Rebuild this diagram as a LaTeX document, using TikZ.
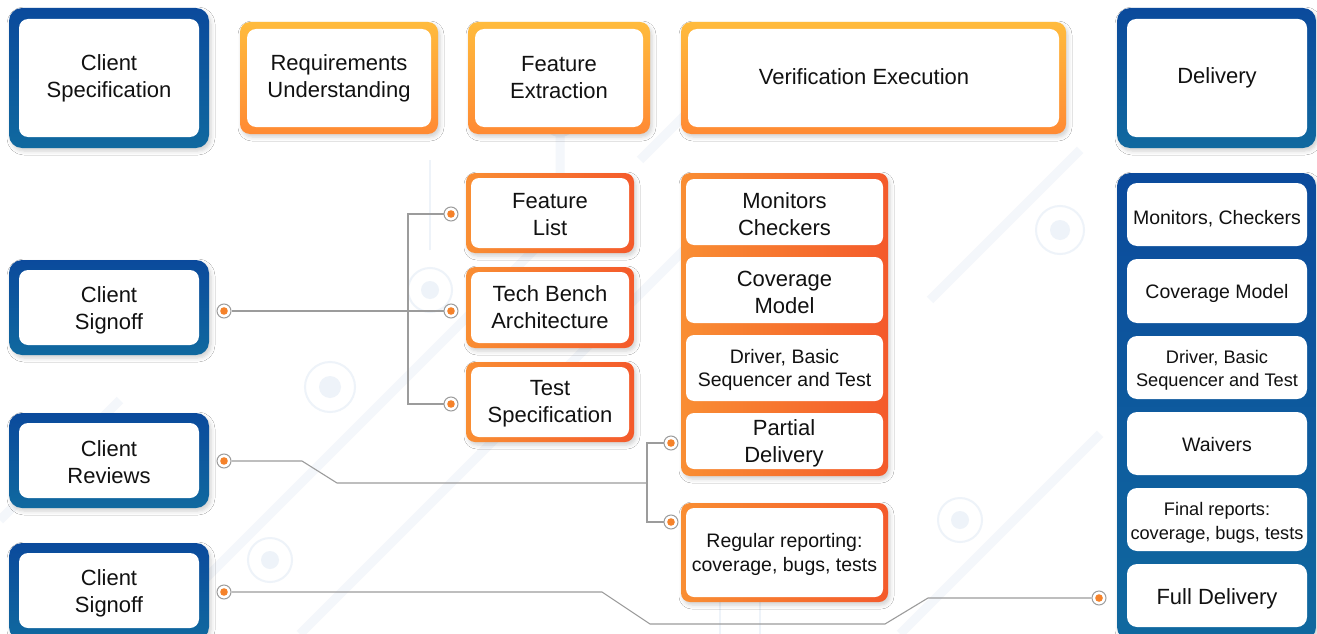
\documentclass[tikz,border=0pt]{standalone}
\usepackage{fontspec}
\setmainfont{Liberation Sans}
\usetikzlibrary{shadows.blur,fit}
\definecolor{bluetop}{HTML}{0B4A9C}
\definecolor{bluebot}{HTML}{10699F}
\definecolor{oytop}{HTML}{FFBB3D}
\definecolor{oybot}{HTML}{FF8A33}
\definecolor{orleft}{HTML}{F98E33}
\definecolor{orright}{HTML}{F45A2B}
\definecolor{conn}{HTML}{9C9C9C}
\definecolor{dotc}{HTML}{F5822A}
\definecolor{bgpat}{HTML}{F4F7FB}
\definecolor{bgring}{HTML}{EEF3F9}
\definecolor{txt}{HTML}{111111}
\newcommand\txtL{\fontsize{22pt}{27pt}\selectfont}
\newcommand\txtS{\fontsize{19.5pt}{23.5pt}\selectfont}
\newcommand\txtT{\fontsize{18.2pt}{23.5pt}\selectfont}
\tikzset{
  shadowed/.style={blur shadow={shadow xshift=2pt, shadow yshift=-3pt, shadow blur radius=4pt, shadow opacity=18}},
  bluebox/.style={rectangle, rounded corners=13pt, top color=bluetop, bottom color=bluebot, draw=none, inner sep=0pt, shadowed},
  ytopbox/.style={rectangle, rounded corners=10pt, top color=oytop, bottom color=oybot, draw=none, inner sep=0pt, shadowed},
  orbox/.style={rectangle, rounded corners=9pt, left color=orleft, right color=orright, draw=none, inner sep=0pt, shadowed},
  whitebox/.style={rectangle, rounded corners=9pt, fill=white, draw=none, inner sep=0pt},
  lbl/.style={align=center, text=txt, font=\txtL, inner sep=0pt},
  lblb/.style={lbl, yshift=-2pt},
  lbls/.style={lblb, font=\txtS},
  lblt/.style={lblb, font=\txtT},
  conndot/.style={circle, draw=conn, fill=white, line width=1pt, minimum size=14pt, inner sep=0pt,
    path picture={\fill[dotc] (path picture bounding box.center) circle (3.8pt);}},
  connline/.style={draw=conn, line width=1.1pt},
  bgline/.style={draw=bgpat, line width=9pt},
  bgthin/.style={draw=bgring, line width=2pt},
}
\begin{document}
\begin{tikzpicture}[x=1pt,y=-1pt]
\useasboundingbox (0,0) rectangle (1317,634);
\fill[white] (0,0) rectangle (1317,634);
% faint background circuit pattern
\begin{scope}
\draw[bgline] (150,634) -- (560,224) -- (560,120);
\draw[bgline] (300,634) -- (700,234);
\draw[bgline] (900,634) -- (1100,434);
\draw[bgline] (640,160) -- (760,40) -- (900,40);
\draw[bgline] (0,520) -- (120,400);
\draw[bgline] (930,300) -- (1080,150);
\draw[bgthin] (330,387) circle (25);
\fill[bgring] (330,387) circle (11);
\draw[bgthin] (430,290) circle (22);
\fill[bgring] (430,290) circle (9);
\draw[bgthin] (430,250) -- (430,160);
\draw[bgthin] (270,560) circle (22);
\fill[bgring] (270,560) circle (9);
\draw[bgthin] (720,560) -- (720,634);
\draw[bgthin] (760,560) -- (760,634);
\draw[bgthin] (1060,230) circle (24);
\fill[bgring] (1060,230) circle (10);
\draw[bgthin] (960,520) circle (22);
\fill[bgring] (960,520) circle (9);
\draw[bgthin] (560,120) circle (16);
\end{scope}

% ---------- top row ----------
\node[bluebox, fit={(9,8)(209,148)}] (cso) {};
\node[whitebox, fit={(19,19)(199,137)}] (cs) {};
\node[lbl] (cs-t) at (cs.center) {Client\\Specification};

\node[ytopbox, fit={(240,22)(438,134)}] (ruo) {};
\node[whitebox, fit={(247,29)(431,127)}] (ru) {};
\node[lbl] (ru-t) at (ru.center) {Requirements\\Understanding};

\node[ytopbox, fit={(468,22)(650,134)}] (feo) {};
\node[whitebox, fit={(475,29)(643,127)}] (fe) {};
\node[lbl] (fe-t) at (fe.center) {Feature\\Extraction};

\node[ytopbox, fit={(681,22)(1066,134)}] (veo) {};
\node[whitebox, fit={(688,29)(1059,127)}] (ve) {};
\node[lbl] (ve-t) at (864,77) {Verification Execution};

\node[bluebox, fit={(1117,8)(1316,148)}] (dlo) {};
\node[whitebox, fit={(1127,19)(1307,137)}] (dl) {};
\node[lbl] (dl-t) at (1217,78) {Delivery};

% ---------- left column ----------
\node[bluebox, fit={(9,260)(209,355)}] (sg1o) {};
\node[whitebox, fit={(19,270)(199,345)}] (sg1) {};
\node[lbl] (sg1-t) at (109,310.5) {Client\\Signoff};

\node[bluebox, fit={(9,413)(209,508)}] (cro) {};
\node[whitebox, fit={(19,423)(199,498)}] (cr) {};
\node[lbl] (cr-t) at (109,462.5) {Client\\Reviews};

\node[bluebox, fit={(9,543)(209,640)}] (sg2o) {};
\node[whitebox, fit={(19,553)(199,628)}] (sg2) {};
\node[lbl] (sg2-t) at (109,593.5) {Client\\Signoff};

% ---------- feature column ----------
\node[orbox, fit={(466,173)(634,253)}] (flo) {};
\node[whitebox, rounded corners=8pt, fit={(471,178)(629,248)}] (fl) {};
\node[lblb] (fl-t) at (fl.center) {Feature\\List};

\node[orbox, fit={(466,267)(634,348)}] (tbo) {};
\node[whitebox, rounded corners=8pt, fit={(471,272)(629,343)}] (tb) {};
\node[lbl] (tb-t) at (tb.center) {Tech Bench\\Architecture};

\node[orbox, fit={(466,362)(634,442)}] (tso) {};
\node[whitebox, rounded corners=8pt, fit={(471,367)(629,437)}] (ts) {};
\node[lblb] (ts-t) at (ts.center) {Test\\Specification};

% ---------- verification column ----------
\node[orbox, fit={(681,173)(888,476)}] (vco) {};
\node[whitebox, rounded corners=8pt, fit={(686,179)(883,245)}] (mc) {};
\node[lblb] (mc-t) at (mc.center) {Monitors\\Checkers};
\node[whitebox, rounded corners=8pt, fit={(686,257)(883,323)}] (cm) {};
\node[lblb] (cm-t) at (cm.center) {Coverage\\Model};
\node[whitebox, rounded corners=8pt, fit={(686,335)(883,401)}] (db) {};
\node[lbls] (db-t) at (db.center) {Driver, Basic\\Sequencer and Test};
\node[whitebox, rounded corners=8pt, fit={(686,413)(883,469)}] (pd) {};
\node[lbl] (pd-t) at (784,443) {Partial\\Delivery};

\node[orbox, fit={(681,503)(888,602)}] (rro) {};
\node[whitebox, rounded corners=8pt, fit={(686,508)(883,597)}] (rr) {};
\node[lbls] (rr-t) at (rr.center) {Regular reporting:\\coverage, bugs, tests};

% ---------- delivery column ----------
\node[bluebox, fit={(1117,173)(1316,640)}] (dco) {};
\node[whitebox, rounded corners=10pt, fit={(1127,183)(1307,246)}] (dmc) {};
\node[lbls] (dmc-t) at (1217,216.5) {Monitors, Checkers};
\node[whitebox, rounded corners=10pt, fit={(1127,259)(1307,323)}] (dcm) {};
\node[lbls] (dcm-t) at (1217,291.5) {Coverage Model};
\node[whitebox, rounded corners=10pt, fit={(1127,336)(1307,399)}] (ddb) {};
\node[lblt] (ddb-t) at (1217,368.5) {Driver, Basic\\Sequencer and Test};
\node[whitebox, rounded corners=10pt, fit={(1127,412)(1307,475)}] (dwv) {};
\node[lbls] (dwv-t) at (1217,443) {Waivers};
\node[whitebox, rounded corners=10pt, fit={(1127,488)(1307,551)}] (dfr) {};
\node[lblt] (dfr-t) at (1217,521) {Final reports:\\coverage, bugs, tests};
\node[whitebox, rounded corners=10pt, fit={(1127,564)(1307,627)}] (dfd) {};
\node[lbl] (dfd-t) at (1217,599) {Full Delivery};

% ---------- connector dots ----------
\node[conndot] (p-sg1) at (224,311) {};
\node[conndot] (p-cr) at (224,461) {};
\node[conndot] (p-sg2) at (224,592) {};
\node[conndot] (p-fl) at (451,214) {};
\node[conndot] (p-tb) at (451,311) {};
\node[conndot] (p-ts) at (451,404) {};
\node[conndot] (p-pd) at (671,443) {};
\node[conndot] (p-rr) at (671,522) {};
\node[conndot] (p-fd) at (1099,598) {};

% bend points
\coordinate (b1) at (408,214);
\coordinate (b2) at (408,404);
\coordinate (c1) at (302,461);
\coordinate (c2) at (337,483);
\coordinate (c3) at (647,483);
\coordinate (c4) at (647,443);
\coordinate (c5) at (647,522);
\coordinate (d1) at (602,592);
\coordinate (d2) at (650,624);
\coordinate (d3) at (885,624);
\coordinate (d4) at (928,598);

% ---------- connectors ----------
\draw[connline] (p-sg1) -- (p-tb);
\draw[connline] (p-fl) -- (b1) -- (b2) -- (p-ts);
\draw[connline] (p-cr) -- (c1) -- (c2) -- (c3);
\draw[connline] (p-pd) -- (c4) -- (c5) -- (p-rr);
\draw[connline] (p-sg2) -- (d1) -- (d2) -- (d3) -- (d4) -- (p-fd);
\end{tikzpicture}
\end{document}
